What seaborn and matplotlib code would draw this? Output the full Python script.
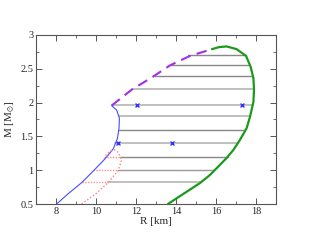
import matplotlib
matplotlib.use("Agg")
import matplotlib.pyplot as plt
import numpy as np
import pandas as pd
import seaborn as sns

# blue thin branch (R, M)
blue_r = [8.03, 8.6, 9.28, 9.87, 10.33, 10.6, 10.87, 11.07, 11.15, 11.17, 11.03, 10.78]
blue_m = [0.50, 0.65, 0.815, 0.99, 1.13, 1.22, 1.32, 1.47, 1.62, 1.77, 1.89, 1.955]

# purple dashed branch
purple_r = [10.78, 11.78, 12.78, 13.7, 14.7, 15.8]
purple_m = [1.955, 2.19, 2.37, 2.55, 2.69, 2.79]

# green thick branch
green_r = [15.8, 16.15, 16.53, 17.03, 17.5, 17.73, 17.87, 17.9, 17.87, 17.7, 17.53,
           17.2, 16.87, 16.53, 16.1, 15.7, 15.2, 14.28, 13.6]
green_m = [2.79, 2.82, 2.83, 2.79, 2.69, 2.53, 2.36, 2.19, 2.01, 1.79, 1.62,
           1.45, 1.30, 1.18, 1.05, 0.93, 0.81, 0.633, 0.50]

# red dotted loop
red_r = [9.28, 10.03, 10.6, 11.1, 11.28, 11.12, 10.95, 10.7, 10.45]
red_m = [0.50, 0.66, 0.815, 0.99, 1.15, 1.26, 1.30, 1.28, 1.21]

# red dotted connectors (M, R left, R right)
red_line_m = [1.2, 1.0, 0.82]
red_line_l = [10.4, 9.87, 9.3]
red_line_r = [11.22, 11.1, 10.6]

# gray horizontal lines (M, R left, R right, shade)
gray_m = [2.7, 2.55, 2.4, 2.2, 1.97, 1.8, 1.6, 1.4, 1.2, 1.0, 0.82]
gray_l = [14.6, 13.75, 12.95, 11.8, 10.8, 11.17, 11.15, 10.95, 11.22, 11.1, 10.6]
gray_r = [17.5, 17.7, 17.85, 17.9, 17.85, 17.7, 17.45, 17.1, 16.6, 15.9, 15.25]
gray_c = ["#888888", "#888888", "#888888", "#bbbbbb", "#bbbbbb", "#bbbbbb",
          "#888888", "#bbbbbb", "#888888", "#999999", "#bbbbbb"]

# blue markers
mark_r = [12.03, 17.28, 11.12, 13.78]
mark_m = [1.97, 1.97, 1.40, 1.40]

sns.set_style("ticks")
plt.rcParams["font.family"] = ["Liberation Serif", "DejaVu Serif"]
plt.rcParams["mathtext.fontset"] = "stix"

fig = plt.figure(figsize=(3.11, 2.41), dpi=100)
ax = fig.add_axes([0.1158, 0.1535, 0.7717, 0.7015])

for m, l, r, c in zip(gray_m, gray_l, gray_r, gray_c):
    lw = 1.3 if c == "#bbbbbb" else 1.0
    ax.plot([l, r], [m, m], color=c, lw=lw, zorder=1)
for m, l, r in zip(red_line_m, red_line_l, red_line_r):
    ax.plot([l, r], [m, m], color="#ff9090", lw=1.0, ls=(0, (1, 1)), zorder=2)

sns.lineplot(x=blue_r, y=blue_m, sort=False, estimator=None, color="#4a4aff",
             lw=0.8, ax=ax, zorder=3)
sns.lineplot(x=red_r, y=red_m, sort=False, estimator=None, color="#ff8080",
             lw=1.0, ax=ax, linestyle=(0, (1, 1.5)), zorder=3)
sns.lineplot(x=purple_r, y=purple_m, sort=False, estimator=None, color="#a030e8",
             lw=1.5, ax=ax, linestyle=(0, (5, 3)), zorder=3)
sns.lineplot(x=green_r, y=green_m, sort=False, estimator=None, color="#1a9a1a",
             lw=1.6, ax=ax, zorder=3)
sns.scatterplot(x=mark_r, y=mark_m, marker="x", color="#3030ff", s=8,
                linewidth=1.0, ax=ax, zorder=4)

ax.set_xlim(7, 19)
ax.set_ylim(0.5, 3)
ax.set_xticks([8, 10, 12, 14, 16, 18])
ax.set_xticks(np.arange(7, 19.1, 1), minor=True)
ax.set_yticks([0.5, 1, 1.5, 2, 2.5, 3])
ax.set_yticklabels(["0.5", "1", "1.5", "2", "2.5", "3"])
ax.set_yticks(np.arange(0.5, 3.01, 0.25), minor=True)
ax.tick_params(which="both", direction="in", top=True, right=True,
               color="#555555", labelsize=7.5, pad=2)
ax.tick_params(which="major", length=4, width=0.7)
ax.tick_params(which="minor", length=2, width=0.6)
for s in ax.spines.values():
    s.set_color("#555555")
    s.set_linewidth(0.8)
ax.set_xlabel("R [km]", fontsize=8, labelpad=1)
ax.set_ylabel(r"M [M$_{\odot}$]", fontsize=8, labelpad=2)

fig.savefig("out.png", dpi=100)
